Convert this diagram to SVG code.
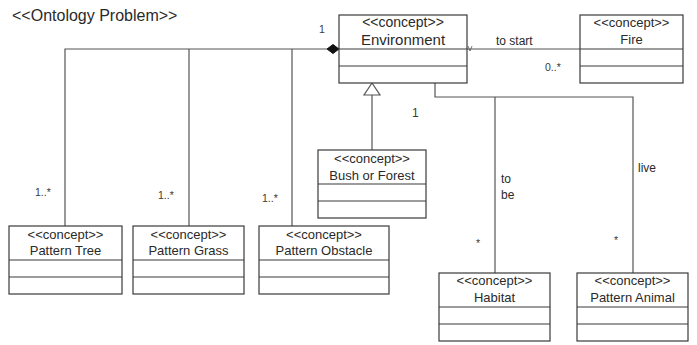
<svg xmlns="http://www.w3.org/2000/svg" width="697" height="345" viewBox="0 0 697 345">
  <style>
    .box { fill: #ffffff; stroke: #3a3a3a; stroke-width: 1.2; }
    .div { stroke: #3a3a3a; stroke-width: 1.2; }
    .line { fill: none; stroke: #555555; stroke-width: 1.2; }
    text { font-family: "Liberation Sans", Arial, sans-serif; fill: #2a2a2a; }
    .st { font-size: 13px; text-anchor: middle; }
    .nm { font-size: 13px; text-anchor: middle; }
    .lbl { font-size: 12px; }
    .mul { font-size: 10.5px; fill: #3a3a3a; }
  </style>
  <rect width="697" height="345" fill="#ffffff"/>

  <text x="12" y="21" style="font-size:16px">&lt;&lt;Ontology Problem&gt;&gt;</text>

  <g id="connectors">
    <!-- composition: Environment owns patterns -->
    <polyline class="line" points="65,226 65,49 327,49"/>
    <line class="line" x1="189" y1="49" x2="189" y2="226"/>
    <line class="line" x1="292" y1="49" x2="292" y2="226"/>
    <polygon points="327,49 333,44.5 339,49 333,53.5" fill="#111111" stroke="#111111" stroke-width="1"/>
    <!-- to start -->
    <line class="line" x1="467" y1="49" x2="580" y2="49"/>
    <polyline class="line" points="468,46 470,51 472,46" style="stroke-width:0.8"/>
    <!-- generalization -->
    <line class="line" x1="372" y1="95" x2="372" y2="150"/>
    <polygon points="372,83 364,95 380,95" fill="#ffffff" stroke="#555555" stroke-width="1.2"/>
    <!-- to be / live -->
    <polyline class="line" points="435,83 435,97 633,97 633,273"/>
    <line class="line" x1="495" y1="97" x2="495" y2="273"/>
  </g>

  <g id="labels">
    <text class="mul" x="319" y="33">1</text>
    <text class="lbl" x="496" y="45">to start</text>
    <text class="mul" x="545" y="71">0..*</text>
    <text class="mul" x="412" y="117" style="font-size:12px">1</text>
    <text class="lbl" x="501" y="183">to</text>
    <text class="lbl" x="501" y="199">be</text>
    <text class="lbl" x="638" y="172">live</text>
    <text class="mul" x="476" y="247">*</text>
    <text class="mul" x="614" y="244">*</text>
    <text class="mul" x="35" y="196">1..*</text>
    <text class="mul" x="158" y="199">1..*</text>
    <text class="mul" x="262" y="202">1..*</text>
  </g>

  <g id="environment">
    <rect class="box" x="339" y="15" width="128" height="68"/>
    <line class="div" x1="339" y1="49" x2="467" y2="49"/>
    <line class="div" x1="339" y1="66" x2="467" y2="66"/>
    <text class="st" x="403" y="27" style="font-size:14px">&lt;&lt;concept&gt;&gt;</text>
    <text class="nm" x="403" y="45" style="font-size:15px">Environment</text>
  </g>

  <g id="fire">
    <rect class="box" x="580" y="15" width="103" height="68"/>
    <line class="div" x1="580" y1="49" x2="683" y2="49"/>
    <line class="div" x1="580" y1="66" x2="683" y2="66"/>
    <text class="st" x="631.5" y="27">&lt;&lt;concept&gt;&gt;</text>
    <text class="nm" x="631.5" y="44">Fire</text>
  </g>

  <g id="bush-or-forest">
    <rect class="box" x="318" y="150" width="108" height="68"/>
    <line class="div" x1="318" y1="184" x2="426" y2="184"/>
    <line class="div" x1="318" y1="201" x2="426" y2="201"/>
    <text class="st" x="372" y="163">&lt;&lt;concept&gt;&gt;</text>
    <text class="nm" x="372" y="180">Bush or Forest</text>
  </g>

  <g id="pattern-tree">
    <rect class="box" x="9" y="226" width="113" height="68"/>
    <line class="div" x1="9" y1="260" x2="122" y2="260"/>
    <line class="div" x1="9" y1="277" x2="122" y2="277"/>
    <text class="st" x="65.5" y="239">&lt;&lt;concept&gt;&gt;</text>
    <text class="nm" x="65.5" y="255">Pattern Tree</text>
  </g>

  <g id="pattern-grass">
    <rect class="box" x="133" y="226" width="111" height="68"/>
    <line class="div" x1="133" y1="260" x2="244" y2="260"/>
    <line class="div" x1="133" y1="277" x2="244" y2="277"/>
    <text class="st" x="188.5" y="239">&lt;&lt;concept&gt;&gt;</text>
    <text class="nm" x="188.5" y="255">Pattern Grass</text>
  </g>

  <g id="pattern-obstacle">
    <rect class="box" x="259" y="226" width="130" height="68"/>
    <line class="div" x1="259" y1="260" x2="389" y2="260"/>
    <line class="div" x1="259" y1="277" x2="389" y2="277"/>
    <text class="st" x="324" y="239">&lt;&lt;concept&gt;&gt;</text>
    <text class="nm" x="324" y="255">Pattern Obstacle</text>
  </g>

  <g id="habitat">
    <rect class="box" x="439" y="273" width="111" height="68"/>
    <line class="div" x1="439" y1="307" x2="550" y2="307"/>
    <line class="div" x1="439" y1="324" x2="550" y2="324"/>
    <text class="st" x="494.5" y="285">&lt;&lt;concept&gt;&gt;</text>
    <text class="nm" x="494.5" y="302">Habitat</text>
  </g>

  <g id="pattern-animal">
    <rect class="box" x="577" y="273" width="111" height="68"/>
    <line class="div" x1="577" y1="307" x2="688" y2="307"/>
    <line class="div" x1="577" y1="324" x2="688" y2="324"/>
    <text class="st" x="632.5" y="285">&lt;&lt;concept&gt;&gt;</text>
    <text class="nm" x="632.5" y="302">Pattern Animal</text>
  </g>
</svg>
